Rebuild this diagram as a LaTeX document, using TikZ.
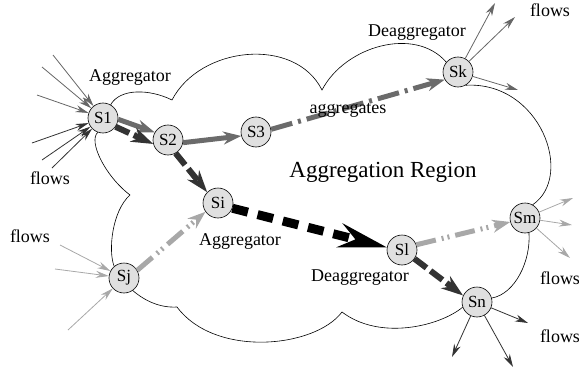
\documentclass[tikz,border=0pt]{standalone}
\usepackage{fontspec}
\setmainfont{Liberation Serif}
\usetikzlibrary{arrows.meta}

\definecolor{stationfill}{gray}{0.88}
\definecolor{aggrgray}{gray}{0.42}
\definecolor{flowgray}{gray}{0.4}
\definecolor{deaggdark}{gray}{0.2}
\definecolor{lightflow}{gray}{0.66}

\tikzset{
    station/.style={draw, fill=stationfill, circle, minimum size=30pt, inner sep=0pt, line width=0.6pt, font=\fontsize{17}{17}\selectfont},
    tag/.style={font=\fontsize{18}{20}\selectfont},
    cloudline/.style={line width=0.6pt},
    thinflow/.style={line width=0.8pt, -{Stealth[length=13pt,width=7pt]}},
    heavy/.style={line width=5pt, aggrgray, -{Stealth[length=18pt,width=13pt]}},
    darkdash/.style={line width=6pt, deaggdark, dash pattern=on 15pt off 5pt, -{Stealth[length=22pt,width=15pt]}},
    blackdash/.style={line width=9pt, black, dash pattern=on 16pt off 10pt, -{Stealth[length=48pt,width=24pt]}},
    lightdash/.style={line width=5pt, lightflow, dash pattern=on 20pt off 6pt on 2pt off 4pt on 2pt off 6pt, -{Stealth[length=18pt,width=13pt]}},
}

\begin{document}
\begin{tikzpicture}[x=1pt, y=1pt]
    \useasboundingbox (0,0) rectangle (579,376);

    \foreach \name/\x/\y in {S1/103/258, S2/168/236, S3/256/244, Sk/458/304, Si/218/173,
                             Sj/124/98, Sl/402/126, Sm/525/158, Sn/477/74}
    {
        \node[station] (\name) at (\x,\y) {\name};
    }

    % region outline
    \coordinate (c1) at (172,276);
    \coordinate (c2) at (322,286);
    \coordinate (c3) at (342,64);
    \coordinate (c4) at (177,69);
    \coordinate (c5) at (130,181);
    \draw[cloudline] (S1.60) .. controls (120,288) and (150,287) .. (c1)
        .. controls (200,330) and (295,340) .. (c2)
        .. controls (345,330) and (415,350) .. (Sk.140);
    \draw[cloudline] (Sk.-60) .. controls (540,295) and (575,200) .. (Sm.60);
    \draw[cloudline] (Sm.-75) .. controls (531,115) and (515,82) .. (Sn.15);
    \draw[cloudline] (Sn.200) .. controls (440,50) and (380,35) .. (c3)
        .. controls (315,28) and (215,18) .. (c4)
        .. controls (160,68) and (145,75) .. (Sj.-55);
    \draw[cloudline] (Sj.130) .. controls (108,125) and (112,165) .. (c5)
        .. controls (105,200) and (88,235) .. (S1.250);

    % single flows
    \foreach \x/\y [count=\i] in {53/321, 42/309, 37/281, 32/233, 42/216, 52/208}
        \coordinate (in\i) at (\x,\y);
    \foreach \i in {1,2,3} \draw[thinflow, flowgray] (in\i) -- (S1);
    \foreach \i in {4,5,6} \draw[thinflow, deaggdark] (in\i) -- (S1);

    \foreach \x/\y [count=\i] in {60/131, 55/107, 68/46}
    {
        \coordinate (jn\i) at (\x,\y);
        \draw[thinflow, lightflow] (jn\i) -- (Sj);
    }
    \foreach \x/\y [count=\i] in {495/373, 515/359, 518/286}
    {
        \coordinate (kout\i) at (\x,\y);
        \draw[thinflow, flowgray] (Sk) -- (kout\i);
    }
    \foreach \x/\y [count=\i] in {573/178, 572/151, 570/118}
    {
        \coordinate (mout\i) at (\x,\y);
        \draw[thinflow, lightflow] (Sm) -- (mout\i);
    }
    \foreach \x/\y [count=\i] in {528/53, 452/19, 513/9}
    {
        \coordinate (nout\i) at (\x,\y);
        \draw[thinflow, deaggdark] (Sn) -- (nout\i);
    }

    % aggregates
    \draw[heavy] (S1.-5) -- (S2.150);
    \draw[heavy] (S2.-10) -- (S3.195);
    \draw[heavy, dash pattern=on 22pt off 6pt on 3pt off 6pt] (S3.10) -- (Sk.210);
    \draw[darkdash] (S1.-35) -- (S2.195);
    \draw[darkdash] (S2.-60) -- (Si.135);
    \draw[blackdash] (Si.-20) -- (Sl.170);
    \draw[darkdash] (Sl.-35) -- (Sn.155);
    \draw[lightdash] (Sj.30) -- (Si.215);
    \draw[lightdash] (Sl.20) -- (Sm.195);

    % labels
    \node[tag] (aggr1) at (130,298) {Aggregator};
    \node[tag] (flowsA) at (50,198) {flows};
    \node[tag] (flowsB) at (30,140) {flows};
    \node[tag] (aggs) at (348,266) {aggregates};
    \node[tag] (deagg1) at (417,343) {Deaggregator};
    \node[tag] (flowsC) at (550,366) {flows};
    \node[font=\fontsize{23}{25}\selectfont] (region) at (383,204) {Aggregation Region};
    \node[tag] (aggr2) at (240,135) {Aggregator};
    \node[tag] (deagg2) at (360,98) {Deaggregator};
    \node[tag] (flowsD) at (560,98) {flows};
    \node[tag] (flowsE) at (560,40) {flows};
\end{tikzpicture}
\end{document}
